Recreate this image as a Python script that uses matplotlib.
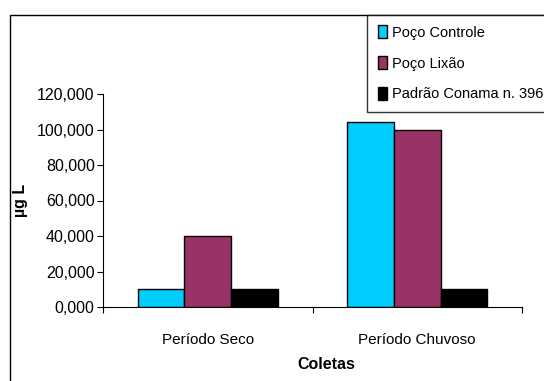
import numpy as np
import matplotlib.pyplot as plt
from matplotlib.patches import Rectangle

categories = ["Período Seco", "Período Chuvoso"]
series_names = ["Poço Controle", "Poço Lixão", "Padrão Conama n. 396"]
poco_controle = [10.2, 104.2]
poco_lixao = [40.0, 99.7]
padrao_conama = [10.0, 10.0]
yticks = [0, 20, 40, 60, 80, 100, 120]

colors = ["#00CCFF", "#993366", "#000000"]
plt.rcParams['font.family'] = ["Liberation Sans", "DejaVu Sans"]

fig = plt.figure(figsize=(5.44, 3.81), dpi=100)
W, H = 544, 381
ax = fig.add_axes([103 / W, 1 - 307 / H, (522 - 103) / W, (307 - 94) / H])

# outer chart frame (cut at right/bottom edges)
fig.patches.append(Rectangle((9.5 / W, -0.1), 1.2, 1 - 14.5 / H + 0.1,
                             transform=fig.transFigure, fill=False,
                             edgecolor="black", linewidth=1.0, clip_on=False))

x = np.arange(len(categories))
bw = 0.223
data = [poco_controle, poco_lixao, padrao_conama]
for i, (vals, name, c) in enumerate(zip(data, series_names, colors)):
    ax.bar(x + (i - 1) * bw, vals, bw, color=c, edgecolor="black",
           linewidth=1.0, label=name)

ax.set_xlim(-0.5, 1.5)
ax.set_ylim(0, 120)
ax.set_yticks(yticks)
ax.set_yticklabels([f"{v:.3f}".replace(".", ",") for v in yticks], fontsize=11.5)
ax.set_xticks([-0.5, 0.5, 1.5])
ax.set_xticklabels([])
ax.tick_params(axis="both", direction="out", length=4, width=0.8, pad=2)
for xi, lab in zip(x, categories):
    ax.text(xi, -0.155, lab, transform=ax.get_xaxis_transform(),
            ha="center", va="center", fontsize=11)
ax.text(0.532, -0.272, "Coletas", transform=ax.transAxes, ha="center",
        va="center", fontsize=11.5, fontweight="bold")
ax.set_ylabel("µg L", fontsize=11.5, fontweight="bold")
ax.yaxis.set_label_coords(-0.179, 0.5)

for s in ["top", "right"]:
    ax.spines[s].set_visible(False)
for s in ["left", "bottom"]:
    ax.spines[s].set_linewidth(0.8)

leg = fig.legend(loc="upper left", bbox_to_anchor=(367 / W, 1 - 14.5 / H),
                 fontsize=10.5, frameon=True, fancybox=False,
                 handlelength=0.65, handleheight=1.0, handletextpad=0.3,
                 labelspacing=1.1, borderpad=0.75, borderaxespad=0)
leg.get_frame().set_edgecolor("black")
leg.get_frame().set_linewidth(1.0)

fig.savefig("out.png", dpi=100)
